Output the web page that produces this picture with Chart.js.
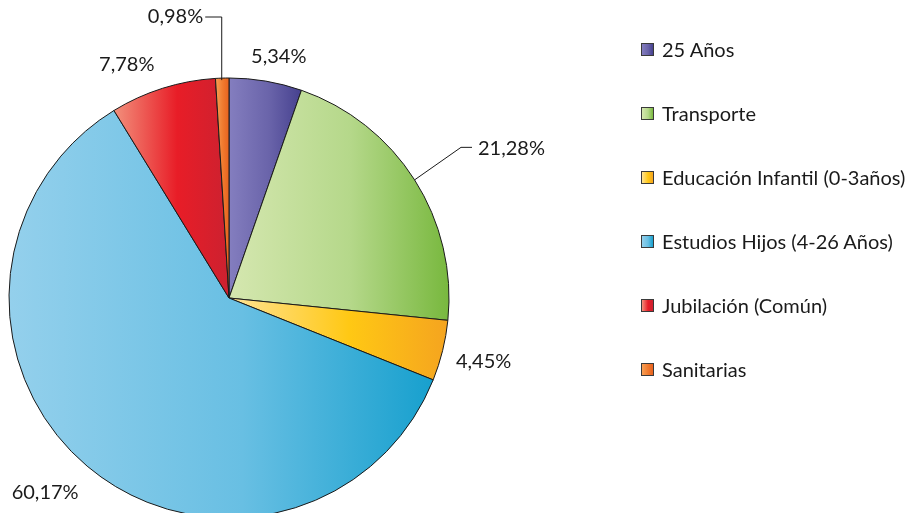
<!DOCTYPE html>
<html>
<head>
<meta charset="utf-8">
<script src="https://cdn.jsdelivr.net/npm/chart.js@4/dist/chart.umd.min.js"></script>
<style>
    html, body { margin: 0; padding: 0; background: #fff; overflow: hidden; }
    #wrap { position: relative; width: 922px; height: 513px; }
    #legend { position: absolute; left: 641px; top: 0; font-family: Lato, sans-serif; font-size: 20px; color: #1a1a1a; }
    .item { position: absolute; left: 0; white-space: nowrap; display: flex; align-items: center; height: 20px; }
    .box { width: 11px; height: 11px; border: 1px solid #3a3a3a; margin-right: 8px; }
</style>
</head>
<body>
<div id="wrap">
    <canvas id="pieChart" width="922" height="513"></canvas>
    <div id="legend"></div>
</div>
<script>
const labels = ['25 Años', 'Transporte', 'Educación Infantil (0-3años)', 'Estudios Hijos (4-26 Años)', 'Jubilación (Común)', 'Sanitarias'];
const percents = [5.34, 21.28, 4.45, 60.17, 7.78, 0.98];
const valueLabels = ['5,34%', '21,28%', '4,45%', '60,17%', '7,78%', '0,98%'];

// light -> mid -> dark, left to right
const shades = [
    ['#847EBF', '#6A64AA', '#46418F'],
    ['#D5E7B0', '#B5D88A', '#78B83E'],
    ['#FFE396', '#FFC814', '#F5A41F'],
    ['#94D0EC', '#68BFE3', '#17A0CE'],
    ['#F2907C', '#E81D27', '#CC2130'],
    ['#F8A055', '#F07A2E', '#E8621E']
];

const R = 220;

// horizontal extent of slice i, so each slice gets its own gradient
function sliceExtent(i, cx) {
    const total = percents.reduce((a, b) => a + b, 0);
    const before = percents.slice(0, i).reduce((a, b) => a + b, 0);
    const start = -Math.PI / 2 + 2 * Math.PI * before / total;
    const end = start + 2 * Math.PI * percents[i] / total;
    const xs = [cx, cx + R * Math.cos(start), cx + R * Math.cos(end)];
    if (start < 0 && end > 0) xs.push(cx + R);
    if (start < Math.PI && end > Math.PI) xs.push(cx - R);
    return [Math.min(...xs), Math.max(...xs)];
}

function sliceFill(ctx) {
    const chart = ctx.chart;
    const area = chart.chartArea;
    if (!area) return shades[ctx.dataIndex][1];
    const cx = (area.left + area.right) / 2;
    const [x0, x1] = sliceExtent(ctx.dataIndex, cx);
    const g = chart.ctx.createLinearGradient(x0, 0, x1, 0);
    const s = shades[ctx.dataIndex];
    g.addColorStop(0, s[0]);
    g.addColorStop(0.55, s[1]);
    g.addColorStop(1, s[2]);
    return g;
}

// label offsets from the slice's outer edge (mid angle)
const labelNudge = [[13, -25], null, [41, 11], [-42, 26], [-36, -24], null];

const valueLabelPlugin = {
    id: 'valueLabels',
    afterDatasetsDraw(chart) {
        const c = chart.ctx;
        const arcs = chart.getDatasetMeta(0).data;
        c.save();
        c.font = '20px Lato, sans-serif';
        c.fillStyle = '#1a1a1a';
        c.strokeStyle = '#1a1a1a';
        c.lineWidth = 1;
        c.textBaseline = 'middle';
        arcs.forEach((arc, i) => {
            const mid = (arc.startAngle + arc.endAngle) / 2;
            const ex = arc.x + arc.outerRadius * Math.cos(mid);
            const ey = arc.y + arc.outerRadius * Math.sin(mid);
            if (i === 1) {
                const bx = arc.x + (arc.outerRadius + 55) * Math.cos(mid);
                const by = arc.y + (arc.outerRadius + 55) * Math.sin(mid) - 3;
                c.beginPath();
                c.moveTo(ex, ey);
                c.lineTo(bx, by);
                c.lineTo(bx + 11, by);
                c.stroke();
                c.textAlign = 'left';
                c.fillText(valueLabels[i], bx + 17, by + 1);
            } else if (i === 5) {
                const ty = 17;
                c.beginPath();
                c.moveTo(ex - 0.5, ey + 2);
                c.lineTo(ex - 0.5, ty);
                c.lineTo(ex - 17, ty);
                c.stroke();
                c.textAlign = 'right';
                c.fillText(valueLabels[i], ex - 19, ty);
            } else {
                const [dx, dy] = labelNudge[i];
                c.textAlign = 'center';
                c.fillText(valueLabels[i], ex + dx, ey + dy);
            }
        });
        c.restore();
    }
};

new Chart(document.getElementById('pieChart'), {
    type: 'pie',
    data: {
        labels: labels,
        datasets: [{
            data: percents,
            backgroundColor: sliceFill,
            borderColor: '#1a1a1a',
            borderWidth: 1,
            radius: R,
            clip: false,
            hoverOffset: 0
        }]
    },
    options: {
        responsive: false,
        animation: false,
        layout: { padding: { left: 0, right: 464, top: 83, bottom: 0 } },
        plugins: {
            legend: { display: false },
            tooltip: { enabled: false }
        }
    },
    plugins: [valueLabelPlugin]
});

// legend to the right of the pie
const legend = document.getElementById('legend');
labels.forEach((name, i) => {
    const row = document.createElement('div');
    row.className = 'item';
    row.style.top = (39 + i * 64) + 'px';
    const box = document.createElement('span');
    box.className = 'box';
    box.style.background = `linear-gradient(to right, ${shades[i][0]}, ${shades[i][1]} 55%, ${shades[i][2]})`;
    const txt = document.createElement('span');
    txt.textContent = name;
    row.appendChild(box);
    row.appendChild(txt);
    legend.appendChild(row);
});
</script>
</body>
</html>
